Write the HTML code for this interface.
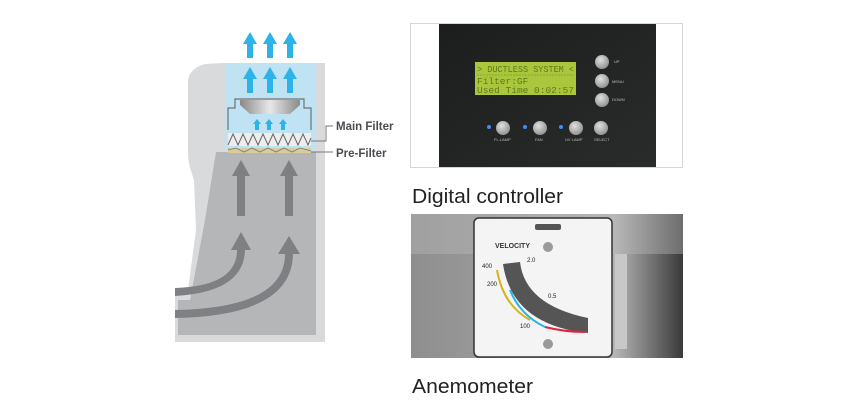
<!DOCTYPE html>
<html><head><meta charset="utf-8"><style>
html,body{margin:0;padding:0;background:#fff;}
svg{display:block}
</style></head><body>
<svg width="846" height="415" viewBox="0 0 846 415" xmlns="http://www.w3.org/2000/svg" font-family="Liberation Sans, sans-serif">
<defs>
<linearGradient id="lamp" x1="0" y1="0" x2="1" y2="0"><stop offset="0" stop-color="#888"/><stop offset="0.5" stop-color="#e8e8e8"/><stop offset="1" stop-color="#8a8a8a"/></linearGradient>
<linearGradient id="panel" x1="0" y1="0" x2="1" y2="1"><stop offset="0" stop-color="#1c1e1e"/><stop offset="1" stop-color="#2a2c2c"/></linearGradient>
<radialGradient id="btn" cx="0.4" cy="0.35" r="0.7"><stop offset="0" stop-color="#e0e0e0"/><stop offset="1" stop-color="#8d8d8d"/></radialGradient>
<linearGradient id="photo" x1="0" y1="0" x2="1" y2="0"><stop offset="0" stop-color="#8e8e8e"/><stop offset="0.3" stop-color="#9a9a9a"/><stop offset="0.75" stop-color="#b5b5b5"/><stop offset="1" stop-color="#3a3a3a"/></linearGradient>
</defs>
<!-- cabinet -->
<path d="M188 80 Q190 68 205 64 L222 63 L325 63 L325 342 L175 342 L175 290 L188 290 L196 230 L194 180 L190 168 Q188 160 188 150 Z" fill="#d9dadc"/>
<path d="M226 63 L316 63 L316 152 L226 152 Z" fill="#bfe3f3"/>
<path d="M216 152 L316 152 L316 335 L178 335 L178 300 L190 300 L205 220 Z" fill="#b5b6b8"/>
<!-- filter housing -->
<path d="M228 130 L228 108 L235 108 L235 99 L304 99 L304 108 L311 108 L311 130" fill="none" stroke="#6f7276" stroke-width="1.2"/>
<path d="M240 100 L300 100 L300 105 L290 114 L250 114 L240 105 Z" fill="url(#lamp)"/>
<rect x="228" y="133" width="83" height="13" fill="#eeeeee"/>
<polyline points="228,145 233,134 238,145 243,134 248,145 253,134 258,145 263,134 268,145 273,134 278,145 283,134 288,145 293,134 298,145 303,134 308,145 311,138" fill="none" stroke="#666" stroke-width="1"/>
<rect x="228" y="148" width="83" height="5" fill="#d8cc9e"/>
<polyline points="228,150 236,148 244,152 252,148 260,152 268,148 276,152 284,148 292,152 300,148 311,151" fill="none" stroke="#777" stroke-width="0.8"/>
<!-- leader lines -->
<path d="M311 141 L326 141 L326 126 L333 126" fill="none" stroke="#777" stroke-width="1"/>
<path d="M311 152 L333 152" fill="none" stroke="#777" stroke-width="1"/>
<text x="336" y="130" font-size="11.5" font-weight="bold" fill="#4a4c50">Main Filter</text>
<text x="336" y="157" font-size="11.5" font-weight="bold" fill="#4a4c50">Pre-Filter</text>
<!-- blue arrows -->
<g fill="#2db3e8">
<path d="M250 32 L257 44 L253 44 L253 58 L247 58 L247 44 L243 44 Z"/>
<path d="M270 32 L277 44 L273 44 L273 58 L267 58 L267 44 L263 44 Z"/>
<path d="M290 32 L297 44 L293 44 L293 58 L287 58 L287 44 L283 44 Z"/>
<path d="M250 67 L257 79 L253 79 L253 93 L247 93 L247 79 L243 79 Z"/>
<path d="M270 67 L277 79 L273 79 L273 93 L267 93 L267 79 L263 79 Z"/>
<path d="M290 67 L297 79 L293 79 L293 93 L287 93 L287 79 L283 79 Z"/>
<path d="M257 119 L261 124 L259 124 L259 130 L255 130 L255 124 L253 124 Z"/>
<path d="M269 119 L273 124 L271 124 L271 130 L267 130 L267 124 L265 124 Z"/>
<path d="M283 119 L287 124 L285 124 L285 130 L281 130 L281 124 L279 124 Z"/>
</g>
<!-- gray arrows -->
<g fill="#7e8083">
<path d="M241 160 L250 176 L245 176 L245 216 L237 216 L237 176 L232 176 Z"/>
<path d="M289 160 L298 176 L293 176 L293 216 L285 216 L285 176 L280 176 Z"/>
<path d="M241 232 L251 250 L245 250 Q244 292 175 296 L175 288 Q237 286 237 250 L231 250 Z"/>
<path d="M289 236 L300 254 L293 254 Q292 316 175 318 L175 310 Q285 308 285 254 L278 254 Z"/>
</g>
<!-- controller -->
<rect x="410.5" y="23.5" width="272" height="144" fill="#fff" stroke="#d6d6d6"/>
<rect x="439" y="24" width="217" height="143" fill="url(#panel)"/>
<rect x="475" y="62" width="101" height="33" fill="#a9c63c"/>
<text x="477" y="72" font-size="9.5" fill="#5f7a1a" font-family="Liberation Mono, monospace" textLength="97" lengthAdjust="spacingAndGlyphs">&gt; DUCTLESS  SYSTEM &lt;</text>
<line x1="477" y1="75" x2="574" y2="75" stroke="#7f9a2a" stroke-width="0.8" stroke-dasharray="2 1"/>
<text x="477" y="84" font-size="9.5" fill="#5f7a1a" font-family="Liberation Mono, monospace">Filter:GF</text>
<text x="477" y="93" font-size="9.5" fill="#5f7a1a" font-family="Liberation Mono, monospace" textLength="97" lengthAdjust="spacingAndGlyphs">Used Time    0:02:57</text>
<g fill="url(#btn)">
<circle cx="602" cy="62" r="7"/><circle cx="602" cy="81" r="7"/><circle cx="602" cy="100" r="7"/>
<circle cx="503" cy="128" r="7"/><circle cx="540" cy="128" r="7"/><circle cx="576" cy="128" r="7"/><circle cx="601" cy="128" r="7"/>
</g>
<g fill="#3b8cff"><circle cx="489" cy="127" r="2"/><circle cx="525" cy="127" r="2"/><circle cx="561" cy="127" r="2"/></g>
<g fill="#bbb" font-size="4"><text x="614" y="63">UP</text><text x="612" y="83">MENU</text><text x="612" y="101">DOWN</text>
<text x="494" y="141">FL.LAMP</text><text x="535" y="141">FAN</text><text x="565" y="141">UV LAMP</text><text x="594" y="141">SELECT</text></g>
<text x="412" y="203" font-size="20" fill="#222" textLength="151" lengthAdjust="spacingAndGlyphs">Digital controller</text>
<!-- anemometer -->
<rect x="411" y="214" width="272" height="144" fill="url(#photo)"/>
<rect x="411" y="214" width="272" height="40" fill="#bcbcbc" opacity="0.4"/>
<rect x="474" y="218" width="138" height="139" rx="5" fill="#f4f4f4" stroke="#333" stroke-width="1.5"/>
<rect x="615" y="254" width="12" height="95" fill="#c8c8c8"/>
<circle cx="548" cy="247" r="5" fill="#9a9a9a"/>
<circle cx="548" cy="344" r="5" fill="#9a9a9a"/>
<rect x="535" y="224" width="26" height="6" rx="2" fill="#555"/>
<text x="495" y="248" font-size="7" font-weight="bold" fill="#333">VELOCITY</text>
<path d="M503 264 L520 262 Q525 305 588 318 L588 333 Q512 325 503 264 Z" fill="#555"/>
<path d="M497 270 Q503 305 530 320" fill="none" stroke="#d6b21a" stroke-width="2"/>
<path d="M510 290 Q520 315 545 327" fill="none" stroke="#2ab4e6" stroke-width="2"/>
<path d="M545 327 Q565 332 585 332" fill="none" stroke="#e0243a" stroke-width="2"/>
<g font-size="6" fill="#222"><text x="482" y="268">400</text><text x="487" y="286">200</text><text x="520" y="328">100</text><text x="527" y="262">2.0</text><text x="548" y="298">0.5</text></g>
<text x="412" y="393" font-size="20" fill="#222" textLength="121" lengthAdjust="spacingAndGlyphs">Anemometer</text>
</svg>
</body></html>
